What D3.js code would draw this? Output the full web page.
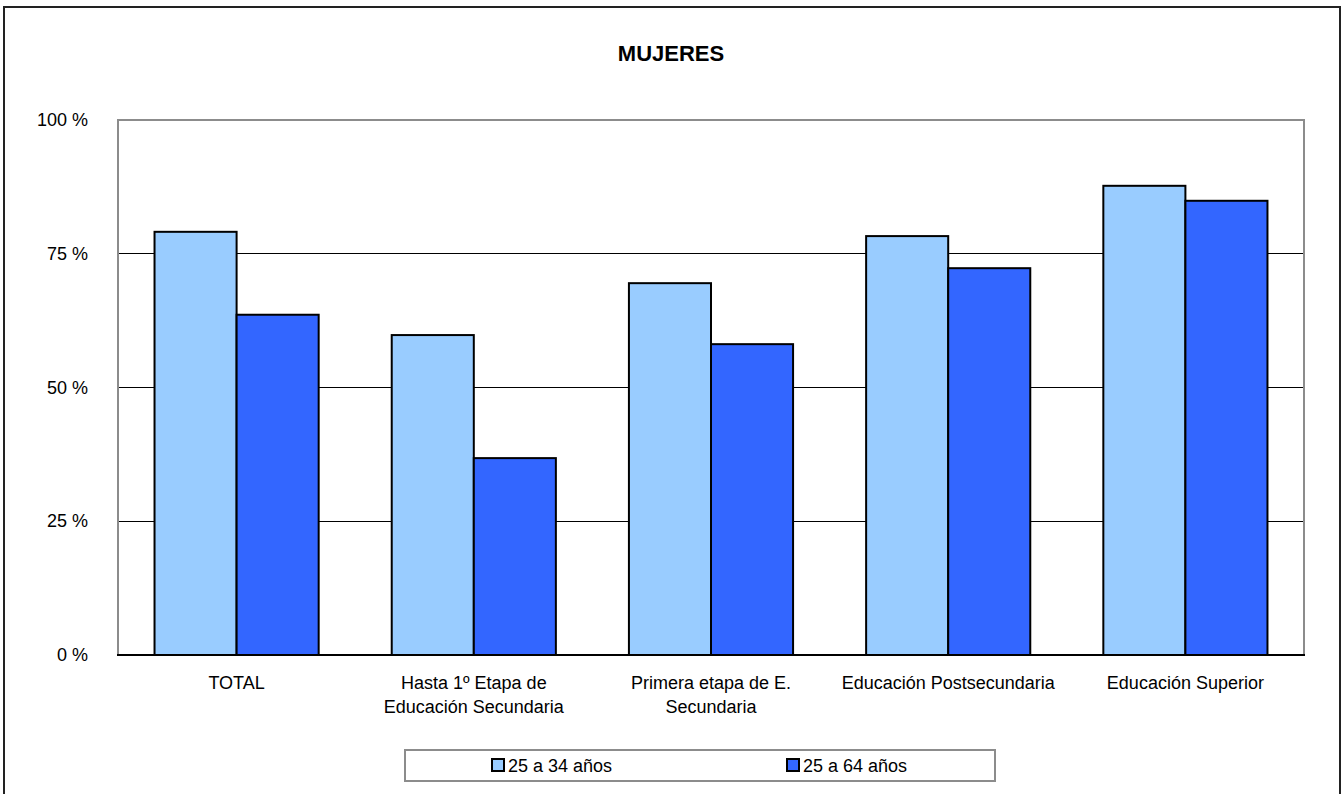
<!DOCTYPE html>
<html>
<head>
<meta charset="utf-8">
<script src="https://cdn.jsdelivr.net/npm/d3@7"></script>
<style>
html,body{margin:0;padding:0;background:#fff;}
svg{display:block;font-family:"Liberation Sans",Arial,sans-serif;}
</style>
</head>
<body>
<svg id="chart" width="1342" height="794"></svg>
<script>
const title = "MUJERES";
const categories = [
  ["TOTAL"],
  ["Hasta 1º Etapa de", "Educación Secundaria"],
  ["Primera etapa de E.", "Secundaria"],
  ["Educación Postsecundaria"],
  ["Educación Superior"]
];
const seriesNames = ["25 a 34 años", "25 a 64 años"];
const series1 = [79.1, 59.8, 69.5, 78.3, 87.7];
const series2 = [63.6, 36.8, 58.1, 72.3, 84.9];
const colors = ["#99CCFF", "#3366FF"];
const yTicks = [0, 25, 50, 75, 100];

const svg = d3.select("#chart");
const plot = {x0: 118, x1: 1304, y0: 120, y1: 655};

// outer frame
svg.append("rect").attr("x", 4).attr("y", 7).attr("width", 1336).attr("height", 800)
  .attr("fill", "#fff").attr("stroke", "#222").attr("stroke-width", 2);

svg.append("text").attr("x", 671).attr("y", 61).attr("text-anchor", "middle")
  .attr("font-size", 22).attr("font-weight", "bold").text(title);

const x = d3.scaleBand().domain(d3.range(categories.length))
  .range([plot.x0, plot.x1]).paddingInner(0.308).paddingOuter(0.154);
const y = d3.scaleLinear().domain([0, 100]).range([plot.y1, plot.y0]);

// gridlines
svg.append("g").selectAll("line").data(yTicks.filter(d => d > 0 && d < 100)).join("line")
  .attr("x1", plot.x0).attr("x2", plot.x1)
  .attr("y1", d => y(d)).attr("y2", d => y(d))
  .attr("stroke", "#000").attr("stroke-width", 1).attr("shape-rendering", "crispEdges");

// plot frame (gray)
svg.append("rect").attr("x", plot.x0).attr("y", plot.y0)
  .attr("width", plot.x1 - plot.x0).attr("height", plot.y1 - plot.y0)
  .attr("fill", "none").attr("stroke", "#8c8c8c").attr("stroke-width", 2);

// bars
const bw = x.bandwidth() / 2;
[series1, series2].forEach((s, si) => {
  svg.append("g").selectAll("rect").data(s).join("rect")
    .attr("x", (d, i) => x(i) + si * bw)
    .attr("y", d => y(d))
    .attr("width", bw)
    .attr("height", d => y(0) - y(d))
    .attr("fill", colors[si]).attr("stroke", "#000").attr("stroke-width", 2);
});

// x axis line
svg.append("line").attr("x1", plot.x0 - 1).attr("x2", plot.x1 + 1)
  .attr("y1", y(0)).attr("y2", y(0)).attr("stroke", "#000").attr("stroke-width", 2);

// y tick labels
svg.append("g").selectAll("text").data(yTicks).join("text")
  .attr("x", 88).attr("y", d => y(d) + 6).attr("text-anchor", "end")
  .attr("font-size", 18).text(d => d + " %");

// category labels
const cl = svg.append("g").selectAll("text").data(categories).join("text")
  .attr("text-anchor", "middle").attr("font-size", 18)
  .attr("transform", (d, i) => `translate(${x(i) + x.bandwidth() / 2},689)`);
cl.selectAll("tspan").data(d => d).join("tspan")
  .attr("x", 0).attr("dy", (d, i) => i === 0 ? 0 : 24).text(d => d);

// legend
svg.append("rect").attr("x", 405).attr("y", 750).attr("width", 590).attr("height", 31)
  .attr("fill", "#fff").attr("stroke", "#8c8c8c").attr("stroke-width", 2);
const legX = [492, 787];
seriesNames.forEach((n, i) => {
  svg.append("rect").attr("x", legX[i]).attr("y", 759).attr("width", 12).attr("height", 12)
    .attr("fill", colors[i]).attr("stroke", "#000").attr("stroke-width", 2);
  svg.append("text").attr("x", legX[i] + 16).attr("y", 772).attr("font-size", 18).text(n);
});
</script>
</body>
</html>
